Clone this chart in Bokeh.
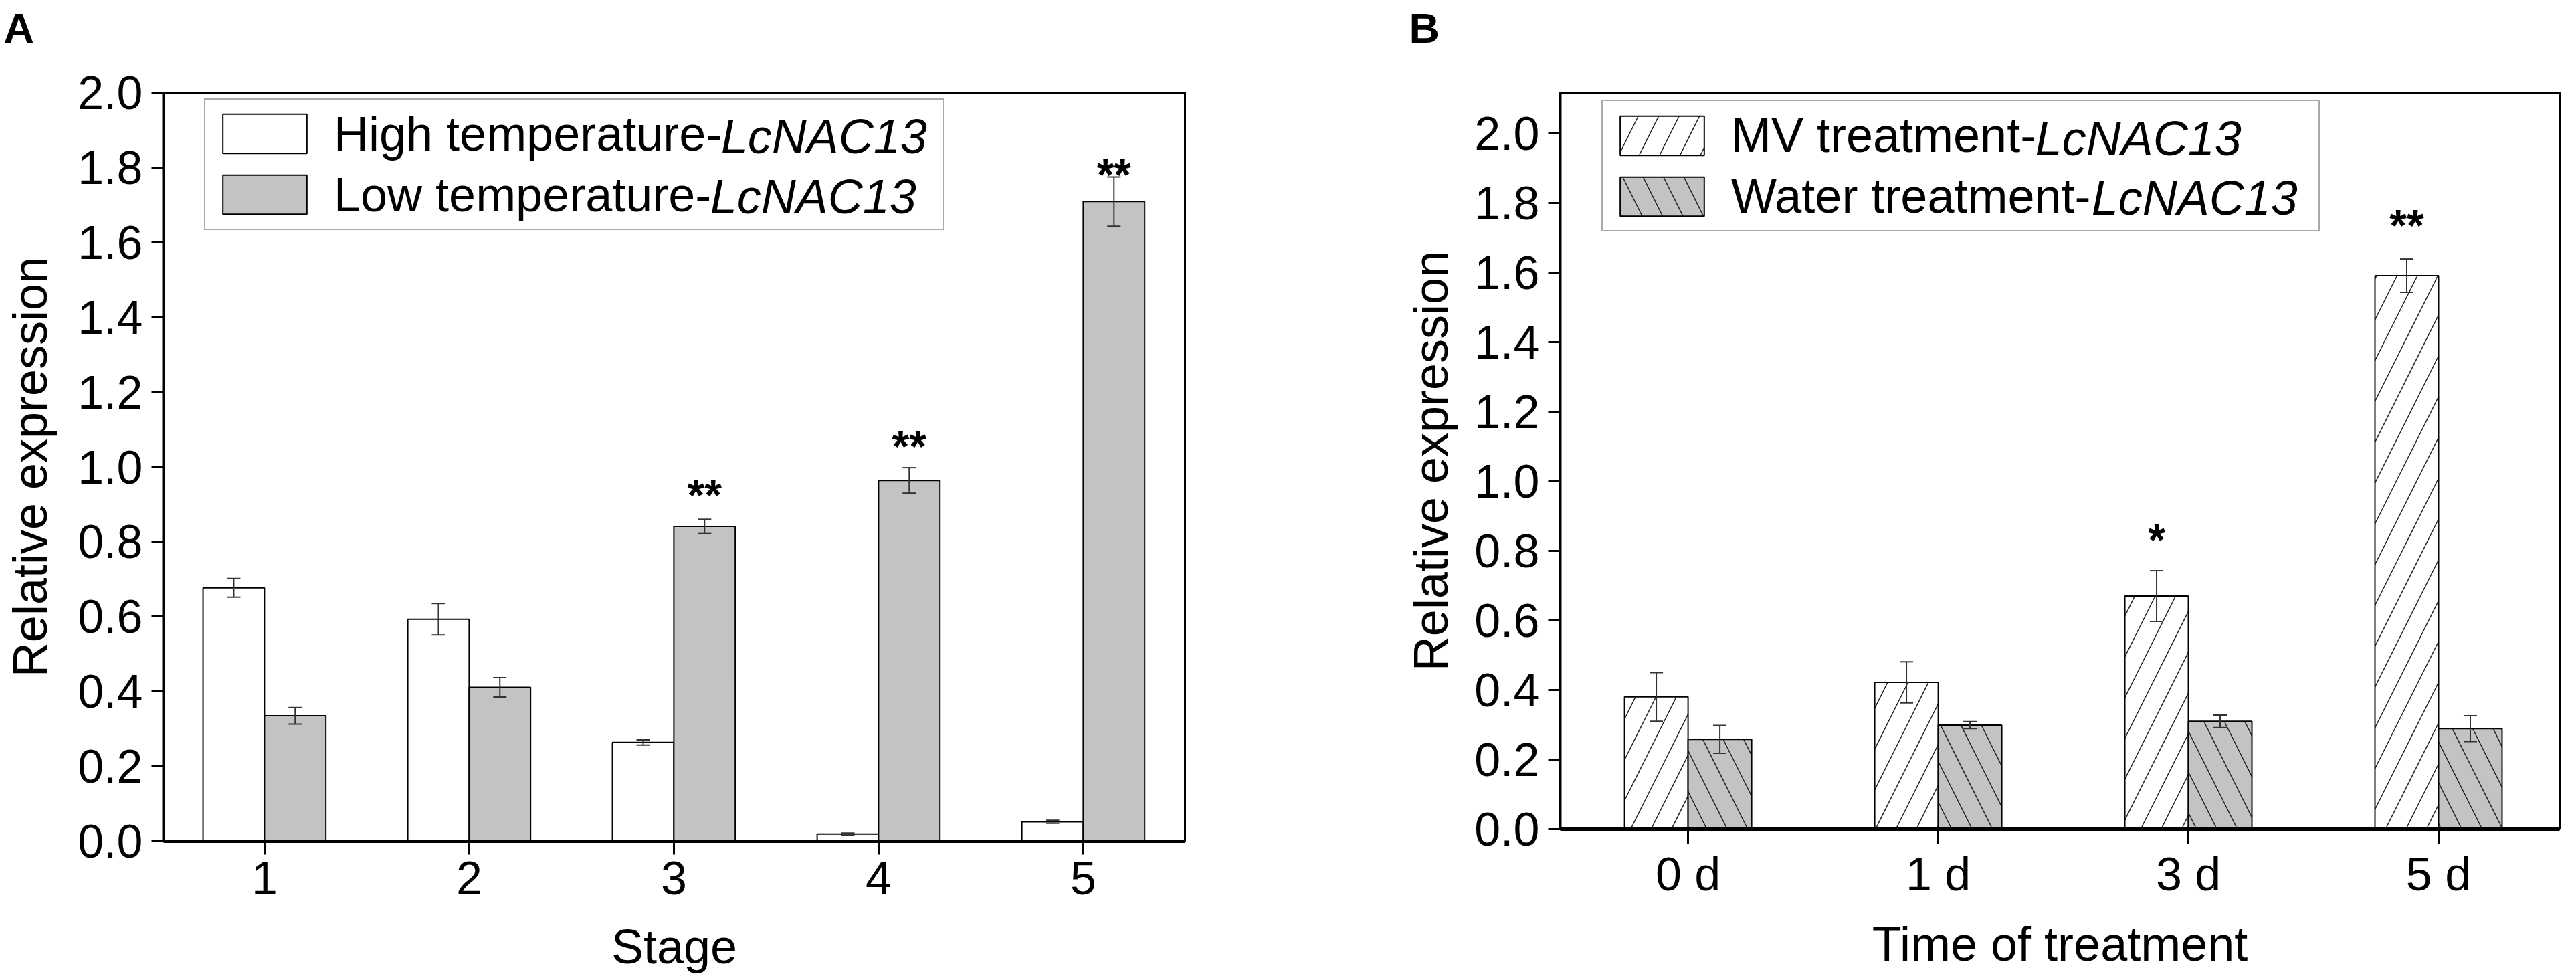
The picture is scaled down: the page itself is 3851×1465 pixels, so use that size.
from bokeh.plotting import figure
from bokeh.layouts import row, column
from bokeh.models import (ColumnDataSource, Whisker, TeeHead, FixedTicker,
                          PrintfTickFormatter, Legend, LegendItem, Label)
from bokeh.core.properties import value
from bokeh.embed import file_html
from bokeh.resources import INLINE

FONT = "Liberation Sans"

# ---------------- Panel A data ----------------
stages = ["1", "2", "3", "4", "5"]
high_mean = [0.677, 0.593, 0.264, 0.019, 0.052]
high_err = [0.025, 0.042, 0.007, 0.003, 0.004]
low_mean = [0.335, 0.411, 0.841, 0.964, 1.709]
low_err = [0.022, 0.026, 0.019, 0.034, 0.066]
sig_a = ["", "", "**", "**", "**"]
sig_a_y = [0.0, 0.0, 0.99, 1.12, 1.845]
yticks_a = [0.0, 0.2, 0.4, 0.6, 0.8, 1.0, 1.2, 1.4, 1.6, 1.8, 2.0]

# ---------------- Panel B data ----------------
times = ["0 d", "1 d", "3 d", "5 d"]
mv_mean = [0.380, 0.422, 0.670, 1.591]
mv_err = [0.070, 0.059, 0.073, 0.048]
water_mean = [0.258, 0.299, 0.310, 0.289]
water_err = [0.040, 0.010, 0.018, 0.037]
sig_b = ["", "", "*", "**"]
sig_b_y = [0.0, 0.0, 0.90, 1.804]
yticks_b = [0.0, 0.2, 0.4, 0.6, 0.8, 1.0, 1.2, 1.4, 1.6, 1.8, 2.0]

GREY = "#c3c3c3"

W = {"H": .722, "i": .222, "g": .556, "h": .556, " ": .278, "t": .278, "e": .556,
     "m": .833, "p": .556, "r": .333, "a": .556, "u": .556, "-": .333, "L": .556,
     "o": .556, "w": .722, "M": .833, "V": .667, "n": .556, "W": .944}

WA, WB = 2082, 1753
STRIP_H = 88


def style_axes(p, xtick_out, ylabel_standoff, xlabel_standoff, xtick_standoff):
    p.xgrid.visible = False
    p.ygrid.visible = False
    p.outline_line_color = "black"
    p.outline_line_width = 3
    p.outline_line_alpha = 1
    p.background_fill_color = "white"
    p.border_fill_color = "white"
    for ax in (p.xaxis[0], p.yaxis[0]):
        ax.axis_line_color = "black"
        ax.major_tick_line_color = "black"
        ax.major_tick_line_width = 3
        ax.major_tick_in = 0
        ax.minor_tick_line_color = None
        ax.major_label_text_font = FONT
        ax.major_label_text_font_size = "70px"
        ax.major_label_text_color = "black"
        ax.axis_label_text_font = FONT
        ax.axis_label_text_font_size = "72px"
        ax.axis_label_text_font_style = "normal"
        ax.axis_label_text_color = "black"
    p.yaxis[0].axis_line_width = 4
    p.xaxis[0].axis_line_width = 5
    p.yaxis[0].major_tick_out = 18
    p.xaxis[0].major_tick_out = xtick_out
    p.yaxis[0].major_label_standoff = 13
    p.xaxis[0].major_label_standoff = xtick_standoff
    p.yaxis[0].axis_label_standoff = ylabel_standoff
    p.xaxis[0].axis_label_standoff = xlabel_standoff


def add_errors(p, xs, means, errs):
    src = ColumnDataSource(dict(x=xs,
                                upper=[m + e for m, e in zip(means, errs)],
                                lower=[m - e for m, e in zip(means, errs)]))
    w = Whisker(base="x", upper="upper", lower="lower", source=src,
                line_color="#333333", line_width=2,
                upper_head=TeeHead(size=20, line_color="#333333", line_width=2),
                lower_head=TeeHead(size=20, line_color="#333333", line_width=2))
    w.level = "annotation"
    p.add_layout(w)


def add_legend(p, items, vx, vy, prefixes, italic, label_width):
    pad, spacing, gw, gh, standoff, ih = 10, 9, 157, 73, 25, 80.4
    leg = Legend(items=items, location=(vx, vy), padding=pad, spacing=spacing,
                 glyph_width=gw, glyph_height=gh, label_standoff=standoff,
                 label_width=label_width,
                 label_text_font=FONT, label_text_font_size="72px",
                 label_text_color="black", border_line_color="#555555",
                 border_line_width=2, background_fill_alpha=0.0, margin=0)
    p.add_layout(leg, "center")
    h = 2 * pad + 2 * ih + spacing
    tx = vx + pad + gw + standoff
    for k, pre in enumerate(prefixes):
        yc = vy + h - pad - ih / 2 - k * (ih + spacing)
        wpre = sum(W.get(ch, 0.556) for ch in pre) * 72
        p.add_layout(Label(x=tx + wpre, y=yc, x_units="screen", y_units="screen",
                           text=italic, text_font=FONT, text_font_size="72px",
                           text_font_style="italic", text_color="black",
                           text_baseline="middle", text_align="left"))


def letter_strip(width, letter, offset):
    s = figure(width=width, height=STRIP_H, title=letter, x_axis_type=None,
               y_axis_type=None, min_border=0, output_backend="svg",
               toolbar_location=None)
    s.outline_line_color = None
    s.xgrid.visible = False
    s.ygrid.visible = False
    s.border_fill_color = "white"
    s.background_fill_color = "white"
    s.title.align = "left"
    s.title.offset = offset
    s.title.standoff = 8
    s.title.vertical_align = "bottom"
    s.title.text_font = FONT
    s.title.text_font_size = "63px"
    s.title.text_font_style = "bold"
    s.title.text_color = "black"
    return s


stripA = letter_strip(WA, "A", 5)
stripB = letter_strip(WB, "B", 24)

# ---------------- Figure A ----------------
pA = figure(frame_width=1527, frame_height=1119, x_range=(0.507, 5.497), y_range=(0, 2.0),
            output_backend="svg", toolbar_location=None,
            min_border_left=244, min_border_right=311,
            min_border_top=146 - 8 - STRIP_H, min_border_bottom=192)
pos_a = [i + 1 for i in range(len(stages))]
xa_high = [x - 0.15 for x in pos_a]
xa_low = [x + 0.15 for x in pos_a]
rA1 = pA.vbar(x=xa_high, top=high_mean, bottom=0, width=0.3,
              fill_color="white", line_color="black", line_width=2)
rA2 = pA.vbar(x=xa_low, top=low_mean, bottom=0, width=0.3,
              fill_color=GREY, line_color="black", line_width=2)
add_errors(pA, xa_high, high_mean, high_err)
add_errors(pA, xa_low, low_mean, low_err)
ia = [i for i, s in enumerate(sig_a) if s]
pA.text(x=[xa_low[i] for i in ia], y=[sig_a_y[i] for i in ia], text=[sig_a[i] for i in ia],
        text_font=value(FONT), text_font_size="66px", text_font_style="bold",
        text_align="center", text_baseline="alphabetic", y_offset=36, text_color="black")
pA.xaxis[0].ticker = FixedTicker(ticks=pos_a)
pA.xaxis[0].major_label_overrides = {p: s for p, s in zip(pos_a, stages)}
pA.yaxis[0].ticker = FixedTicker(ticks=yticks_a)
pA.yaxis[0].formatter = PrintfTickFormatter(format="%.1f")
pA.xaxis[0].axis_label = "Stage"
pA.yaxis[0].axis_label = "Relative expression"
style_axes(pA, 20, 28, 35, 10)
add_legend(pA, [LegendItem(label="High temperature-", renderers=[rA1]),
                LegendItem(label="Low temperature-", renderers=[rA2])],
           61, 913.5, ["High temperature-", "Low temperature-"], "LcNAC13", 900)

# ---------------- Figure B ----------------
pB = figure(frame_width=1494, frame_height=1101, x_range=(-0.511, 3.484), y_range=(0, 2.117),
            output_backend="svg", toolbar_location=None,
            min_border_left=250, min_border_right=9,
            min_border_top=138 - 8 - STRIP_H, min_border_bottom=218)
pos_b = list(range(len(times)))
xb_mv = [x - 0.127 for x in pos_b]
xb_w = [x + 0.127 for x in pos_b]
rB1 = pB.vbar(x=xb_mv, top=mv_mean, bottom=0, width=0.254,
              fill_color="white", line_color="black", line_width=2,
              hatch_pattern="/", hatch_scale=61, hatch_weight=1.5, hatch_color="#222222")
rB2 = pB.vbar(x=xb_w, top=water_mean, bottom=0, width=0.254,
              fill_color=GREY, line_color="black", line_width=2,
              hatch_pattern="\\", hatch_scale=61, hatch_weight=1.5, hatch_color="#222222")
add_errors(pB, xb_mv, mv_mean, mv_err)
add_errors(pB, xb_w, water_mean, water_err)
ib = [i for i, s in enumerate(sig_b) if s]
pB.text(x=[xb_mv[i] for i in ib], y=[sig_b_y[i] for i in ib], text=[sig_b[i] for i in ib],
        text_font=value(FONT), text_font_size="66px", text_font_style="bold",
        text_align="center", text_baseline="alphabetic", y_offset=36, text_color="black")
pB.xaxis[0].ticker = FixedTicker(ticks=pos_b)
pB.xaxis[0].major_label_overrides = {p: s for p, s in zip(pos_b, times)}
pB.yaxis[0].ticker = FixedTicker(ticks=yticks_b)
pB.yaxis[0].formatter = PrintfTickFormatter(format="%.1f")
pB.xaxis[0].axis_label = "Time of treatment"
pB.yaxis[0].axis_label = "Relative expression"
style_axes(pB, 22, 22, 22, 6)
add_legend(pB, [LegendItem(label="MV treatment-", renderers=[rB1]),
                LegendItem(label="Water treatment-", renderers=[rB2])],
           62, 893, ["MV treatment-", "Water treatment-"], "LcNAC13", 868)

layout = column(row(stripA, stripB), row(pA, pB))
open("out.html", "w").write(file_html(layout, INLINE))
